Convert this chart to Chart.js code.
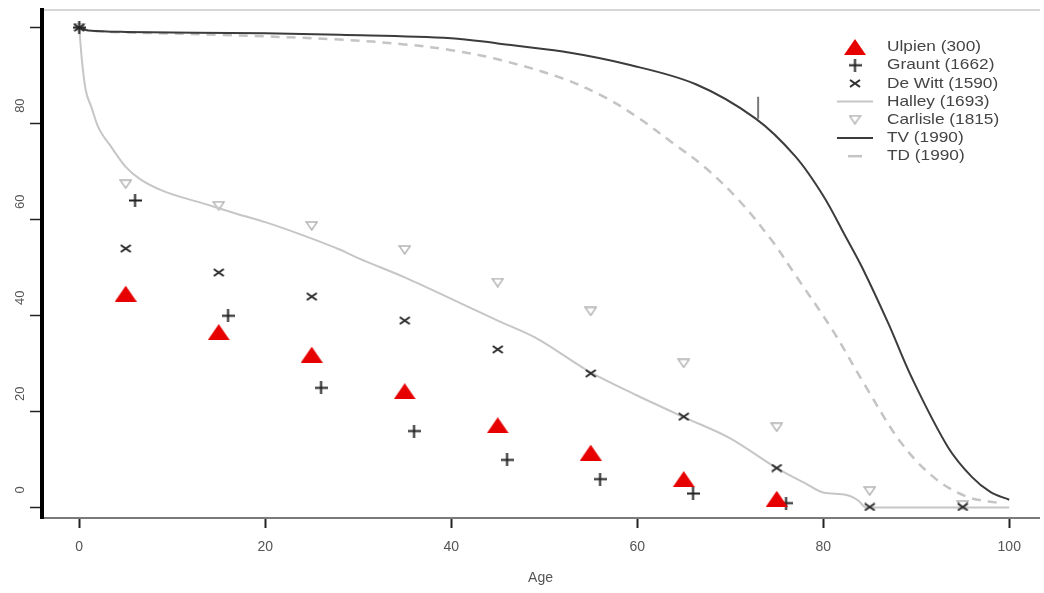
<!DOCTYPE html>
<html>
<head>
<meta charset="utf-8">
<script src="https://cdn.jsdelivr.net/npm/chart.js@4.4.1/dist/chart.umd.min.js"></script>
<style>
    html, body { margin: 0; padding: 0; background: #fff; }
    #wrap { width: 1044px; height: 593px; }
</style>
</head>
<body>
<div id="wrap"><canvas id="survival-chart"></canvas></div>
<script>
    "use strict";

    // Data
    var ulpienAge = [5, 15, 25, 35, 45, 55, 65, 75];
    var ulpienVal = [44.6, 36.6, 31.9, 24.3, 17.2, 11.5, 6.0, 1.9];

    var grauntAge = [0, 6, 16, 26, 36, 46, 56, 66, 76];
    var grauntVal = [100, 64, 40, 25, 16, 10, 6, 3, 1];

    var dewittAge = [0, 5, 15, 25, 35, 45, 55, 65, 75, 85, 95];
    var dewittVal = [100, 54, 49, 44, 39, 33, 28, 19, 8.3, 0.2, 0.2];

    var carlisleAge = [0, 5, 15, 25, 35, 45, 55, 65, 75, 85, 95];
    var carlisleVal = [100, 67.4, 62.9, 58.7, 53.7, 46.9, 40.9, 30.1, 16.8, 3.5, 0.6];

    var halleyAge = [0, 0.3, 0.7, 1.3, 2, 3.5, 5, 6.5, 9, 13.5, 17, 20, 24, 28, 30, 35, 42, 45, 49, 55, 60, 65, 70, 75, 78, 80, 82.5, 83.8, 84.6, 100];
    var halleyVal = [100, 93, 87, 83.5, 79.5, 75, 71, 68.5, 66, 63.3, 61.2, 59.5, 56.8, 53.8, 52, 48, 41.7, 39, 35.5, 28.2, 23.4, 18.9, 14.5, 8.3, 5.2, 3.2, 2.7, 1.5, 0.1, 0.1];

    var tvAge = [0, 1, 5, 20, 28, 40, 45, 52, 59, 66.3, 72.7, 77, 80, 82.4, 84.2, 87, 89.5, 93.4, 96, 98, 100];
    var tvVal = [100, 99.4, 99.1, 98.8, 98.5, 97.8, 96.7, 95, 92.3, 88.2, 81.1, 73.2, 65, 56.5, 50, 38.4, 27.2, 12.7, 6.4, 3.3, 1.7];

    var tdAge = [0, 1, 5, 15, 28, 35, 40, 45, 52, 56.7, 60.2, 64, 67.4, 71, 74.5, 77, 81, 84.5, 88.4, 92, 95.5, 99];
    var tdVal = [100, 99.4, 99, 98.5, 97.5, 96.5, 95.3, 93.4, 89.4, 85.3, 81.1, 75.7, 70.7, 63.9, 55.6, 48.5, 37, 25.5, 13.5, 6.2, 2.3, 1];

    // little bar sitting on the TV curve
    var markAge = [73, 73];
    var markVal = [81.0, 85.6];

    var xTicks = [0, 20, 40, 60, 80, 100];
    var yTicks = [0, 20, 40, 60, 80, 100];


    function toPoints(xs, ys) {
        return xs.map(function (x, i) { return {x: x, y: ys[i]}; });
    }

    // Marker images (the picture is a bit stretched sideways)
    function makeMarker(w, h, draw) {
        var c = document.createElement('canvas');
        c.width = w;
        c.height = h;
        draw(c.getContext('2d'), w, h);
        return c;
    }

    var triangleUp = makeMarker(22, 16, function (g, w, h) {
        g.fillStyle = '#e60000';
        g.beginPath();
        g.moveTo(w / 2, 0);
        g.lineTo(w, h);
        g.lineTo(0, h);
        g.closePath();
        g.fill();
    });

    var plusMark = makeMarker(13, 13, function (g, w, h) {
        g.strokeStyle = '#222';
        g.lineWidth = 2;
        g.beginPath();
        g.moveTo(w / 2, 0); g.lineTo(w / 2, h);
        g.moveTo(0, h / 2); g.lineTo(w, h / 2);
        g.stroke();
    });

    var crossMark = makeMarker(12, 9, function (g, w, h) {
        g.strokeStyle = '#2a2a2a';
        g.lineWidth = 2;
        g.beginPath();
        g.moveTo(1, 1); g.lineTo(w - 1, h - 1);
        g.moveTo(w - 1, 1); g.lineTo(1, h - 1);
        g.stroke();
    });

    var triangleDown = makeMarker(13, 10, function (g, w, h) {
        g.strokeStyle = '#b5b5b5';
        g.lineWidth = 1.5;
        g.beginPath();
        g.moveTo(1, 1);
        g.lineTo(w - 1, 1);
        g.lineTo(w / 2, h - 1);
        g.closePath();
        g.stroke();
    });


    // Legend drawn inside the plot, top right
    var sideLegend = {
        id: 'sideLegend',
        afterDraw: function (chart) {
            var ctx = chart.ctx;
            var cx = 855;
            var y = 47;
            ctx.save();
            ctx.font = '15px "Liberation Sans", Arial, sans-serif';
            ctx.textBaseline = 'middle';
            chart.data.datasets.forEach(function (ds) {
                if (ds.noLegend) {
                    return;
                }
                if (ds.showLine) {
                    ctx.strokeStyle = ds.borderColor;
                    ctx.lineWidth = ds.borderWidth;
                    ctx.beginPath();
                    if (ds.borderDash) {
                        ctx.moveTo(cx - 7, y);
                        ctx.lineTo(cx + 7, y);
                    } else {
                        ctx.moveTo(cx - 18, y);
                        ctx.lineTo(cx + 18, y);
                    }
                    ctx.stroke();
                } else {
                    var img = ds.pointStyle;
                    ctx.drawImage(img, cx - img.width / 2, y - img.height / 2);
                }
                ctx.save();
                ctx.translate(887, y);
                ctx.scale(1.15, 1);
                ctx.fillStyle = '#444';
                ctx.fillText(ds.label, 0, 0);
                ctx.restore();
                y += 18.2;
            });
            ctx.restore();
        }
    };


    // Survival chart
    var ctx1 = document.getElementById('survival-chart').getContext('2d');
    var myChart1 = new Chart(ctx1, {
        type: 'scatter',
        data: {
            datasets: [{
                    label: 'Ulpien (300)',
                    data: toPoints(ulpienAge, ulpienVal),
                    pointStyle: triangleUp
                },
                {
                    label: 'Graunt (1662)',
                    data: toPoints(grauntAge, grauntVal),
                    pointStyle: plusMark
                },
                {
                    label: 'De Witt (1590)',
                    data: toPoints(dewittAge, dewittVal),
                    pointStyle: crossMark
                },
                {
                    label: 'Halley (1693)',
                    data: toPoints(halleyAge, halleyVal),
                    showLine: true,
                    borderColor: '#c6c6c6',
                    borderWidth: 2,
                    pointRadius: 0,
                    cubicInterpolationMode: 'monotone'
                },
                {
                    label: 'Carlisle (1815)',
                    data: toPoints(carlisleAge, carlisleVal),
                    pointStyle: triangleDown
                },
                {
                    label: 'TV (1990)',
                    data: toPoints(tvAge, tvVal),
                    showLine: true,
                    borderColor: '#3c3c3c',
                    borderWidth: 2,
                    pointRadius: 0,
                    tension: 0.35
                },
                {
                    label: 'TD (1990)',
                    data: toPoints(tdAge, tdVal),
                    showLine: true,
                    borderColor: '#c4c4c4',
                    borderWidth: 2.5,
                    borderDash: [9, 7],
                    pointRadius: 0,
                    tension: 0.35
                },
                {
                    label: 'mark',
                    noLegend: true,
                    data: toPoints(markAge, markVal),
                    showLine: true,
                    borderColor: '#7a7a7a',
                    borderWidth: 2,
                    pointRadius: 0
                }
            ]
        },
        options: {
            responsive: true,
            maintainAspectRatio: false,
            animation: false,
            events: [],
            layout: {
                padding: {top: 8, right: 0, bottom: 0, left: 0}
            },
            plugins: {
                legend: {display: false},
                tooltip: {enabled: false}
            },
            scales: {
                x: {
                    type: 'linear',
                    position: 'bottom',
                    min: -4,
                    max: 103.2,
                    afterBuildTicks: function (s) {
                        s.ticks = xTicks.map(function (v) { return {value: v}; });
                    },
                    afterFit: function (s) { s.height = 75; },
                    border: {color: '#7a7a7a', width: 2},
                    grid: {drawOnChartArea: false, tickLength: 10, tickColor: '#222', tickWidth: 2},
                    ticks: {
                        color: '#555',
                        padding: 11,
                        maxRotation: 0,
                        font: {family: '"Liberation Sans", Arial, sans-serif', size: 14}
                    },
                    title: {
                        display: true,
                        text: 'Age',
                        color: '#555',
                        font: {family: '"Liberation Sans", Arial, sans-serif', size: 14},
                        padding: {top: 0, bottom: 6}
                    }
                },
                xTop: {
                    type: 'linear',
                    position: 'top',
                    min: -4,
                    max: 103.2,
                    afterFit: function (s) { s.height = 0; },
                    border: {color: '#d6d6d6', width: 2},
                    grid: {display: false, drawTicks: false},
                    ticks: {display: false}
                },
                y: {
                    type: 'linear',
                    min: -2.1,
                    max: 103.7,
                    afterBuildTicks: function (s) {
                        s.ticks = yTicks.map(function (v) { return {value: v}; });
                    },
                    afterFit: function (s) { s.width = 42; },
                    border: {color: '#000', width: 4},
                    grid: {drawOnChartArea: false, tickLength: 12, tickColor: '#222', tickWidth: 1.5},
                    ticks: {
                        color: '#555',
                        padding: 2,
                        minRotation: 90,
                        maxRotation: 90,
                        labelOffset: -18,
                        crossAlign: 'center',
                        font: {family: '"Liberation Sans", Arial, sans-serif', size: 13},
                        callback: function (v) { return v === 100 ? '' : v; }
                    }
                }
            }
        },
        plugins: [sideLegend]
    });
</script>
</body>
</html>
